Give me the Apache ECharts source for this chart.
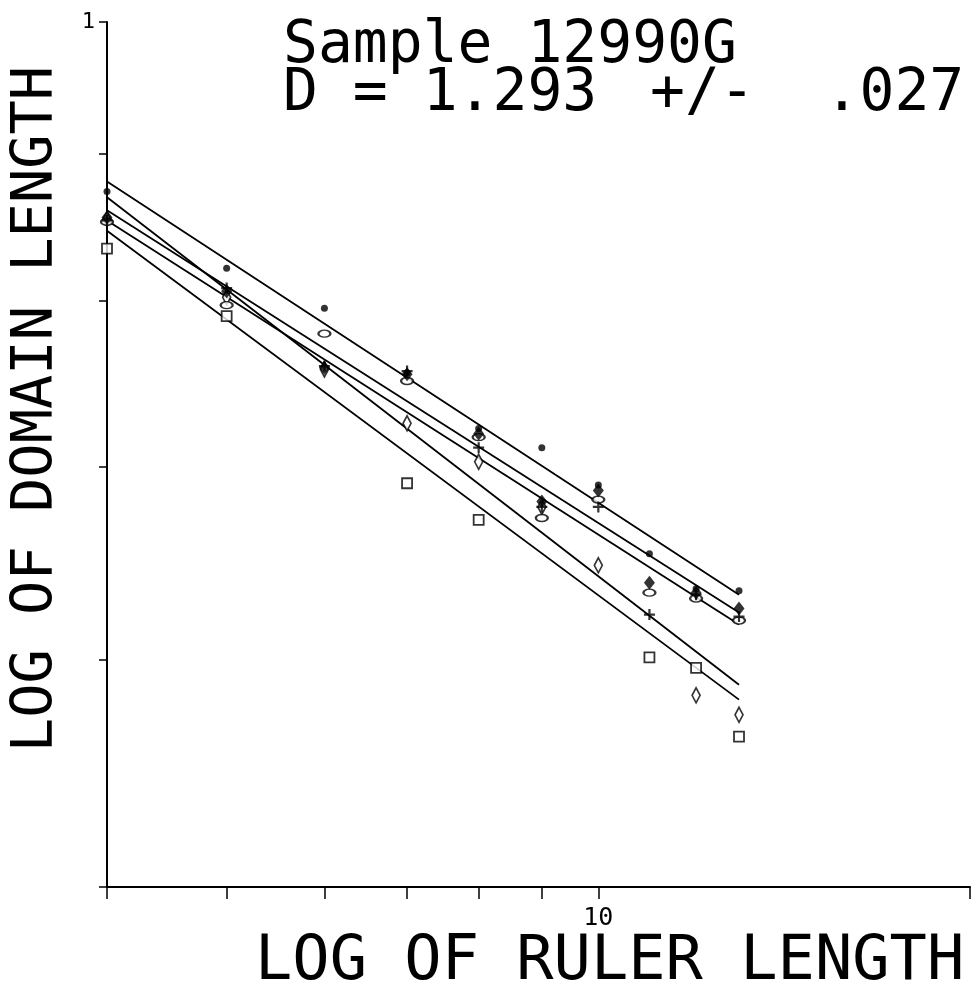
<!DOCTYPE html>
<html>
<head>
<meta charset="utf-8">
<script src="https://cdn.jsdelivr.net/npm/echarts@6/dist/echarts.min.js"></script>
<style>
html, body { margin: 0; padding: 0; background: #fff; }
#main { width: 971px; height: 999px; }
</style>
</head>
<body>
<div id="main"></div>
<script>
// ruler lengths (x) for every column of points
var rulers = [4, 5, 6, 7, 8, 9, 10, 11, 12, 13];

// domain length per ruler, one array per marker type (null = no point)
var dotVals     = [0.873, 0.821, 0.795, 0.755, 0.722, 0.711, 0.690, 0.653, 0.635, 0.634];
var fdiamVals   = [0.855, 0.806, 0.758, 0.754, 0.719, 0.681, 0.687, 0.638, 0.633, 0.625];
var plusVals    = [0.853, 0.808, 0.759, 0.756, 0.711, 0.678, 0.678, 0.622, 0.632, 0.621];
var ellipseVals = [0.852, 0.797, 0.779, 0.750, 0.717, 0.672, 0.682, 0.633, 0.630, 0.619];
var diamVals    = [0.854, 0.802, 0.757, 0.725, 0.703, 0.678, 0.647, null, 0.583, 0.574];
var squareVals  = [0.834, 0.790, null, 0.691, 0.671, null, null, 0.601, 0.596, 0.564];

// fitted lines: value at ruler 4 and at ruler 13
var fitStart = [0.880, 0.860, 0.853, 0.869, 0.846];
var fitEnd   = [0.632, 0.623, 0.617, 0.588, 0.581];
var fitX     = [4, 13];

// axis ticks and labels
var xTicks  = [4, 5, 6, 7, 8, 9, 10, 20];
var xLabels = [10];
var yTicks  = [0.5, 0.6, 0.7, 0.8, 0.9, 1];
var yLabels = [1];

var titleLine1 = 'Sample 12990G';
var titleLine2a = 'D = 1.293';
var titleLine2b = '+/-  .027';
var xName = 'LOG OF RULER LENGTH';
var yName = 'LOG OF DOMAIN LENGTH';

var MONO = "'DejaVu Sans Mono', 'Liberation Mono', monospace";

function pairs(vals) {
	var out = [];
	for (var i = 0; i < rulers.length; i++) {
		if (vals[i] != null) out.push([rulers[i], vals[i]]);
	}
	return out;
}

function pointSeries(vals, symbol, size, filled) {
	return {
		type: 'scatter',
		data: pairs(vals),
		symbol: symbol,
		symbolSize: size,
		z: 5,
		silent: true,
		itemStyle: {
			color: filled ? '#000' : '#fff',
			borderColor: '#000',
			borderWidth: filled ? 0 : 1.8
		}
	};
}

var series = [];
for (var k = 0; k < fitStart.length; k++) {
	series.push({
		type: 'line',
		data: [[fitX[0], fitStart[k]], [fitX[1], fitEnd[k]]],
		showSymbol: false,
		symbol: 'none',
		silent: true,
		z: 3,
		lineStyle: { color: '#000', width: 1.8 }
	});
}
series.push(pointSeries(squareVals, 'rect', 10, false));
series.push(pointSeries(diamVals, 'diamond', [8, 15], false));
series.push(pointSeries(ellipseVals, 'circle', [12, 7], false));
series.push(pointSeries(plusVals, 'path://M-1,-5H1V-1H5V1H1V5H-1V1H-5V-1H-1Z', 11, true));
series.push(pointSeries(fdiamVals, 'diamond', [11, 14], true));
series.push(pointSeries(dotVals, 'circle', 7, true));

var dom = document.getElementById('main');
var myChart = echarts.init(dom, null, { renderer: 'canvas' });

var option = {
	backgroundColor: '#fff',
	animation: false,
	grid: { left: 107, right: 1, top: 22, bottom: 112 },
	xAxis: {
		type: 'log',
		logBase: 10,
		min: 4,
		max: 20,
		axisLine: { show: true, onZero: false, lineStyle: { color: '#000', width: 2 } },
		axisTick: { show: true, inside: false, length: 12, customValues: xTicks, lineStyle: { color: '#000', width: 1.5 } },
		axisLabel: { show: true, customValues: xLabels, margin: 19, color: '#000', fontFamily: MONO, fontSize: 25 },
		splitLine: { show: false },
		minorTick: { show: false }
	},
	yAxis: {
		type: 'log',
		logBase: 10,
		min: 0.5,
		max: 1,
		axisLine: { show: true, onZero: false, lineStyle: { color: '#000', width: 2 } },
		axisTick: { show: true, inside: false, length: 8, customValues: yTicks, lineStyle: { color: '#000', width: 1.5 } },
		axisLabel: { show: true, customValues: yLabels, margin: 12, color: '#000', fontFamily: MONO, fontSize: 22 },
		splitLine: { show: false },
		minorTick: { show: false }
	},
	graphic: [
		{ type: 'text', left: 283, top: 18, style: { text: titleLine1, font: '58px ' + MONO, fill: '#000' } },
		{ type: 'text', left: 283, top: 66, style: { text: titleLine2a, font: '58px ' + MONO, fill: '#000' } },
		{ type: 'text', left: 650, top: 66, style: { text: titleLine2b, font: '58px ' + MONO, fill: '#000' } },
		{ type: 'text', left: 255, top: 932, style: { text: xName, font: '62px ' + MONO, fill: '#000' } },
		{
			type: 'text', x: 37, y: 409, rotation: Math.PI / 2,
			style: { text: yName, font: '57px ' + MONO, fill: '#000', align: 'center', verticalAlign: 'middle' }
		}
	],
	series: series
};

myChart.setOption(option, true);
</script>
</body>
</html>
